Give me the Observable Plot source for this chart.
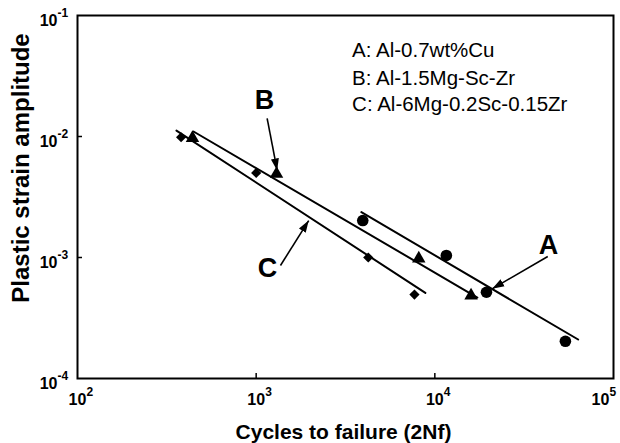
<!DOCTYPE html>
<html><head><meta charset="utf-8">
<script src="https://cdn.jsdelivr.net/npm/d3@7"></script>
<script src="https://cdn.jsdelivr.net/npm/@observablehq/plot@0.6"></script>
<style>body{margin:0;background:#fff}</style>
</head><body><div id="chart"></div>
<script>
// ---- data ----
const cyclesA = [3950, 11600, 19450, 53800];
const strainA = [0.00202, 0.00104, 0.000516, 0.000203];
const cyclesB = [440, 1300, 8130, 15950];
const strainB = [0.0097, 0.0049, 0.00098, 0.000485];
const cyclesC = [380, 1000, 4240, 7690];
const strainC = [0.00986, 0.005, 0.001, 0.000494];

// drawn fit lines (end points)
const lineCyclesA = [3880, 63400];
const lineStrainA = [0.00237, 0.00021];
const lineCyclesB = [446, 17300];
const lineStrainB = [0.011, 0.000467];
const lineCyclesC = [358, 8850];
const lineStrainC = [0.0112, 0.00051];

const legendTexts = ["A: Al-0.7wt%Cu", "B: Al-1.5Mg-Sc-Zr", "C: Al-6Mg-0.2Sc-0.15Zr"];
const legendCycles = [3443, 3443, 3443];
const legendStrain = [0.0514, 0.0302, 0.01837];

const labelTexts = ["A", "B", "C"];
const labelCycles = [43250, 1112, 1156];
const labelStrain = [0.001256, 0.0199, 0.000811];
const arrowFromCycles = [42860, 1152, 1368];
const arrowFromStrain = [0.00102, 0.0141, 0.000859];
const arrowToCycles = [20940, 1311, 1968];
const arrowToStrain = [0.000551, 0.00524, 0.00202];

const xTicks = [1e2, 1e3, 1e4, 1e5];
const xTickExp = ["2", "3", "4", "5"];
const yTicks = [1e-1, 1e-2, 1e-3, 1e-4];
const yTickExp = ["-1", "-2", "-3", "-4"];
const xTitle = "Cycles to failure (2Nf)";
const yTitle = "Plastic strain amplitude";

// ---- build tables ----
const zip = (xs, ys, s) => xs.map((x, i) => ({x, y: ys[i], s}));
const lines = [...zip(lineCyclesA, lineStrainA, "A"), ...zip(lineCyclesB, lineStrainB, "B"), ...zip(lineCyclesC, lineStrainC, "C")];
const arrows = labelTexts.map((t, i) => ({x1: arrowFromCycles[i], y1: arrowFromStrain[i], x2: arrowToCycles[i], y2: arrowToStrain[i]}));
const labels = labelTexts.map((t, i) => ({t, x: labelCycles[i], y: labelStrain[i]}));
const legend = legendTexts.map((t, i) => ({t, x: legendCycles[i], y: legendStrain[i]}));
const xTickRows = xTicks.map((v, i) => ({v, e: xTickExp[i]}));
const yTickRows = yTicks.map((v, i) => ({v, e: yTickExp[i]}));
const xInner = xTickRows.slice(0, 3), xLast = xTickRows.slice(3);

function filledHead(color, context) {
  const ns = "http://www.w3.org/2000/svg";
  const doc = (context && context.document) || document;
  const m = doc.createElementNS(ns, "marker");
  m.setAttribute("viewBox", "-12 -5 12 10");
  m.setAttribute("markerWidth", 12);
  m.setAttribute("markerHeight", 10);
  m.setAttribute("refX", 0);
  m.setAttribute("refY", 0);
  m.setAttribute("orient", "auto");
  m.setAttribute("markerUnits", "userSpaceOnUse");
  const p = doc.createElementNS(ns, "path");
  p.setAttribute("d", "M0,0L-12,-4L-12,4Z");
  p.setAttribute("fill", color);
  p.setAttribute("stroke", "none");
  m.appendChild(p);
  return m;
}

const bold = {fontWeight: "bold"};
function xLabelMarks(rows, shift) {
  return [
    Plot.text(rows, {x: "v", frameAnchor: "bottom", dx: shift, dy: 21, text: () => "10", fontSize: 16, ...bold, textAnchor: "middle", lineAnchor: "middle"}),
    Plot.text(rows, {x: "v", frameAnchor: "bottom", dx: shift + 9, dy: 14, text: "e", fontSize: 12, ...bold, textAnchor: "start", lineAnchor: "middle"})
  ];
}

function build(marker) {
  return Plot.plot({
    width: 620, height: 443,
    marginLeft: 77, marginRight: 7, marginTop: 15, marginBottom: 65,
    x: {type: "log", domain: [1e2, 1e5]},
    y: {type: "log", domain: [1e-4, 1e-1]},
    style: {fontFamily: "'Liberation Sans', Arial, Helvetica, sans-serif", background: "white", color: "black", overflow: "visible"},
    marks: [
      Plot.axisX({ticks: [1e3, 1e4], tickSize: -5, tickFormat: () => "", label: null, strokeWidth: 1.5}),
      Plot.axisY({ticks: [1e-2, 1e-3], tickSize: -5, tickFormat: () => "", label: null, strokeWidth: 1.5}),
      Plot.frame({stroke: "black", strokeWidth: 2}),
      ...xLabelMarks(xInner, 0),
      ...xLabelMarks(xLast, -13),
      Plot.text(yTickRows, {y: "v", frameAnchor: "left", dx: -20, dy: 5, text: () => "10", fontSize: 16, ...bold, textAnchor: "end", lineAnchor: "middle"}),
      Plot.text(yTickRows, {y: "v", frameAnchor: "left", dx: -20, dy: -2, text: "e", fontSize: 12, ...bold, textAnchor: "start", lineAnchor: "middle"}),
      Plot.text([xTitle], {frameAnchor: "bottom", dx: -2, dy: 54, text: d => d, fontSize: 21, ...bold, textAnchor: "middle", lineAnchor: "middle"}),
      Plot.text([yTitle], {frameAnchor: "left", dx: -56, dy: -29, rotate: -90, text: d => d, fontSize: 24, ...bold, textAnchor: "middle", lineAnchor: "middle"}),
      Plot.line(lines, {x: "x", y: "y", z: "s", stroke: "black", strokeWidth: 2}),
      Plot.dot(zip(cyclesA, strainA, "A"), {x: "x", y: "y", symbol: "circle", r: 5.8, fill: "black", stroke: "none"}),
      Plot.dot(zip(cyclesB, strainB, "B"), {x: "x", y: "y", symbol: "triangle", r: 5, fill: "black", stroke: "none"}),
      Plot.dot(zip(cyclesC, strainC, "C"), {x: "x", y: "y", symbol: "diamond2", r: 4.6, fill: "black", stroke: "none"}),
      Plot.link(arrows, {x1: "x1", y1: "y1", x2: "x2", y2: "y2", stroke: "black", strokeWidth: 1.6, markerEnd: marker}),
      Plot.text(labels, {x: "x", y: "y", text: "t", fontSize: 27, ...bold, lineAnchor: "middle"}),
      Plot.text(legend, {x: "x", y: "y", text: "t", fontSize: 20.5, textAnchor: "start", lineAnchor: "middle"})
    ]
  });
}

let chart;
try { chart = build(filledHead); } catch (e) { chart = build("arrow"); }
chart.querySelectorAll("[aria-label='x-axis tick'], [aria-label='y-axis tick']").forEach(g => g.setAttribute("stroke", "black"));
document.getElementById("chart").appendChild(chart);
</script>
</body></html>
